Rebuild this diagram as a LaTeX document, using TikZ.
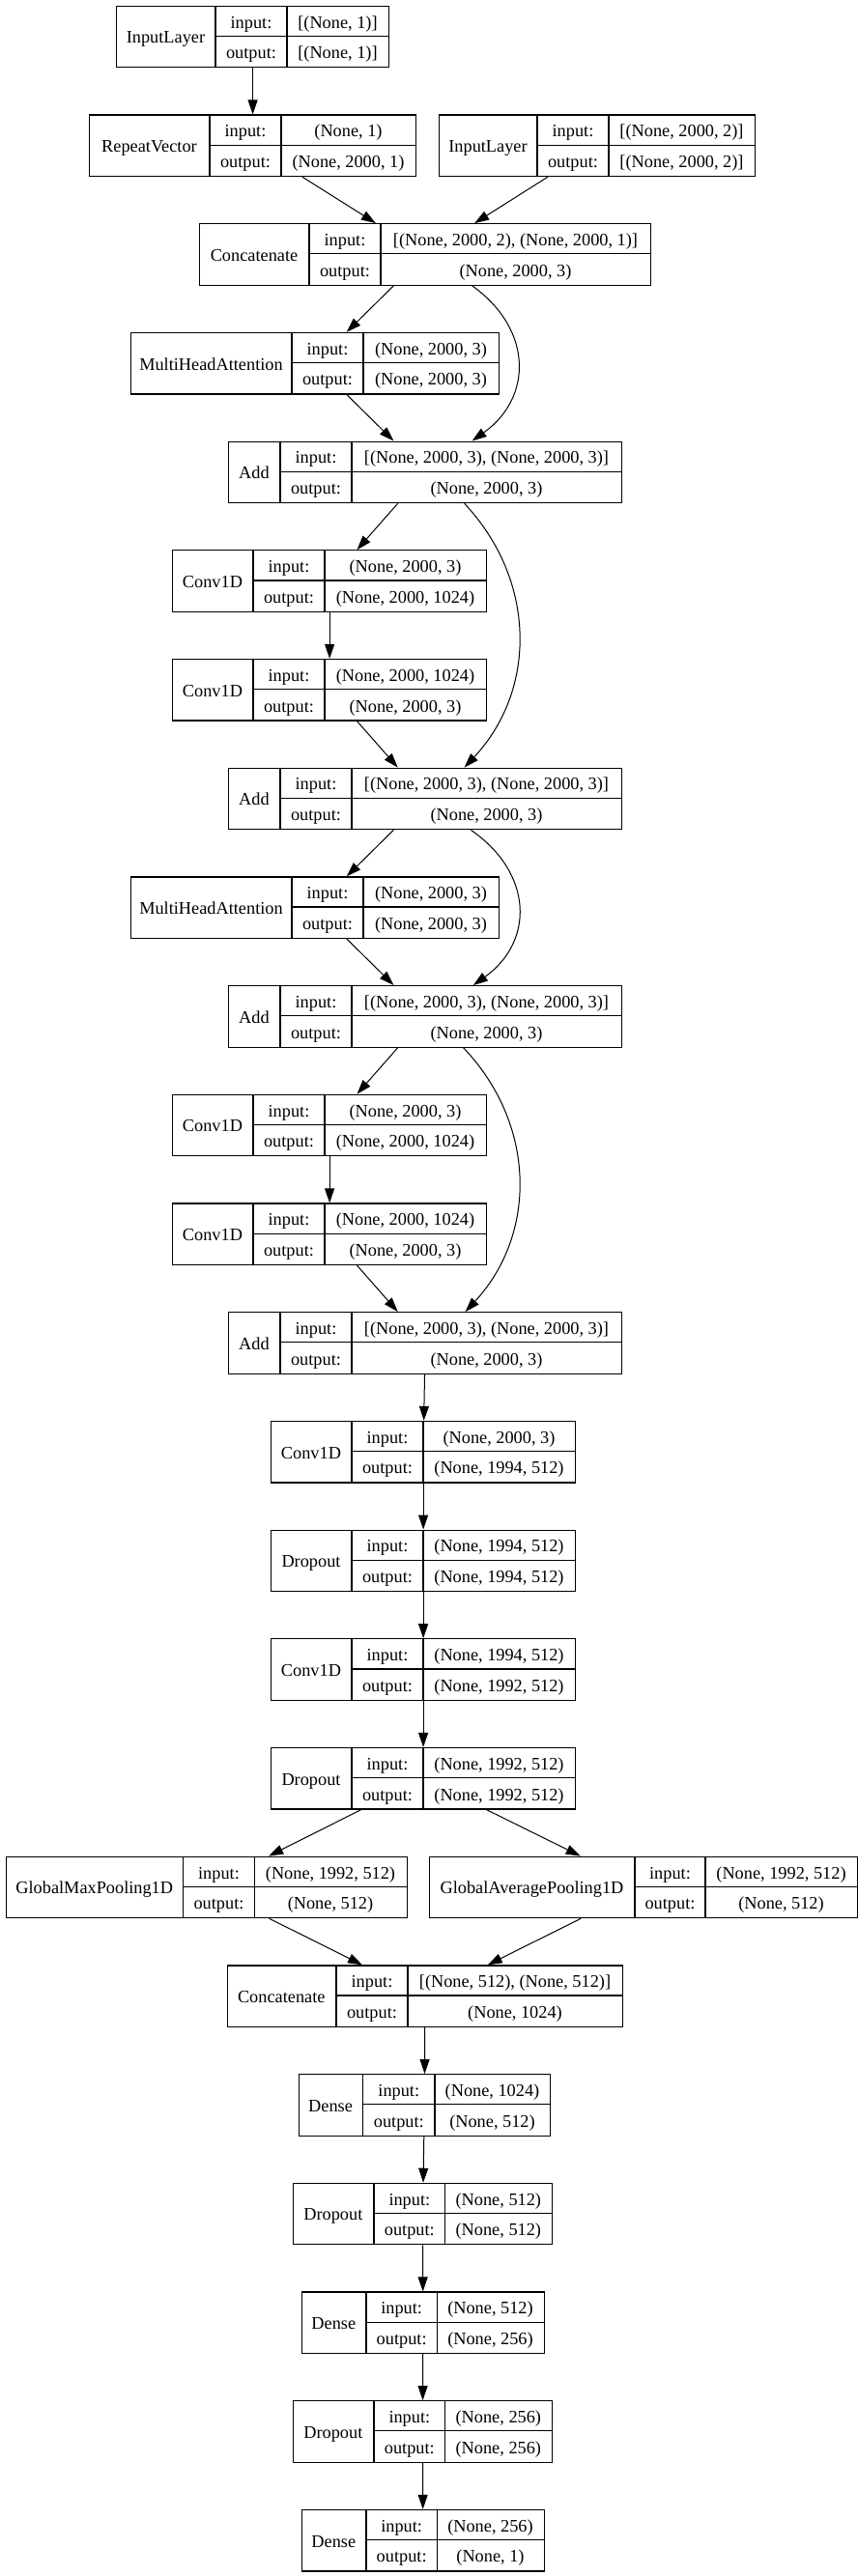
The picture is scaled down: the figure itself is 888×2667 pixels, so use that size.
\documentclass[tikz,border=0pt]{standalone}
\usepackage{fontspec}
\setmainfont{Liberation Serif}
\usepackage{tikz}
\usetikzlibrary{arrows.meta}

\tikzset{
  layerbox/.style={draw, line width=1.2pt, rectangle, inner sep=0pt, minimum height=63.5pt},
  cell/.style={line width=1.2pt},
  txt/.style={inner sep=0pt, text height=15pt, text depth=0pt, font=\fontsize{18.3}{22}\selectfont},
  arr/.style={line width=1pt, -{Triangle[length=15pt,width=10pt]}}
}

% name, left, row, divider 1, divider 2, right, label, input, output
\newcommand{\kbox}[9]{%
  \pgfmathsetmacro{\ltop}{-5.7-(#3-1)*112.7}%
  \pgfmathsetmacro{\lbot}{\ltop-63.5}%
  \pgfmathsetmacro{\lmid}{\ltop-31.75}%
  \node[layerbox, minimum width={#6-#2}, anchor=north west] (#1) at (#2,\ltop) {};
  \draw[cell] (#4,\ltop) -- (#4,\lbot) (#5,\ltop) -- (#5,\lbot) (#4,\lmid) -- (#6,\lmid);
  \node[txt] (#1-lbl) at ({(#2+#4)/2},\lmid) {#7};
  \node[txt] (#1-ik) at ({(#4+#5)/2},{\lmid+15.875}) {input:};
  \node[txt] (#1-iv) at ({(#5+#6)/2},{\lmid+15.875}) {#8};
  \node[txt] (#1-ok) at ({(#4+#5)/2},{\lmid-15.875}) {output:};
  \node[txt] (#1-ov) at ({(#5+#6)/2},{\lmid-15.875}) {#9};
}

\begin{document}
\begin{tikzpicture}[x=1pt, y=1pt]
    \useasboundingbox (0,0) rectangle (888,-2667);
    \kbox{in1}{120}{1}{223}{297}{402}{InputLayer}{[(None, 1)]}{[(None, 1)]}
    \kbox{rep}{92}{2}{217}{291}{430}{RepeatVector}{(None, 1)}{(None, 2000, 1)}
    \kbox{in2}{454}{2}{556}{630}{781}{InputLayer}{[(None, 2000, 2)]}{[(None, 2000, 2)]}
    \kbox{cat1}{206}{3}{320}{394}{673}{Concatenate}{[(None, 2000, 2), (None, 2000, 1)]}{(None, 2000, 3)}
    \kbox{mha1}{135}{4}{302}{376}{516}{MultiHeadAttention}{(None, 2000, 3)}{(None, 2000, 3)}
    \kbox{add1}{236}{5}{290}{364}{643}{Add}{[(None, 2000, 3), (None, 2000, 3)]}{(None, 2000, 3)}
    \kbox{conv1}{178}{6}{262}{336}{503}{Conv1D}{(None, 2000, 3)}{(None, 2000, 1024)}
    \kbox{conv2}{178}{7}{262}{336}{503}{Conv1D}{(None, 2000, 1024)}{(None, 2000, 3)}
    \kbox{add2}{236}{8}{290}{364}{643}{Add}{[(None, 2000, 3), (None, 2000, 3)]}{(None, 2000, 3)}
    \kbox{mha2}{135}{9}{302}{376}{516}{MultiHeadAttention}{(None, 2000, 3)}{(None, 2000, 3)}
    \kbox{add3}{236}{10}{290}{364}{643}{Add}{[(None, 2000, 3), (None, 2000, 3)]}{(None, 2000, 3)}
    \kbox{conv3}{178}{11}{262}{336}{503}{Conv1D}{(None, 2000, 3)}{(None, 2000, 1024)}
    \kbox{conv4}{178}{12}{262}{336}{503}{Conv1D}{(None, 2000, 1024)}{(None, 2000, 3)}
    \kbox{add4}{236}{13}{290}{364}{643}{Add}{[(None, 2000, 3), (None, 2000, 3)]}{(None, 2000, 3)}
    \kbox{conv5}{280}{14}{364}{438}{595}{Conv1D}{(None, 2000, 3)}{(None, 1994, 512)}
    \kbox{drop1}{280}{15}{364}{438}{595}{Dropout}{(None, 1994, 512)}{(None, 1994, 512)}
    \kbox{conv6}{280}{16}{364}{438}{595}{Conv1D}{(None, 1994, 512)}{(None, 1992, 512)}
    \kbox{drop2}{280}{17}{364}{438}{595}{Dropout}{(None, 1992, 512)}{(None, 1992, 512)}
    \kbox{gmp}{6}{18}{189.5}{263.5}{420.5}{GlobalMaxPooling1D}{(None, 1992, 512)}{(None, 512)}
    \kbox{gap}{444}{18}{657}{730}{887}{GlobalAveragePooling1D}{(None, 1992, 512)}{(None, 512)}
    \kbox{cat2}{234.5}{19}{348}{422}{644}{Concatenate}{[(None, 512), (None, 512)]}{(None, 1024)}
    \kbox{dense1}{308.5}{20}{375.6}{450}{569}{Dense}{(None, 1024)}{(None, 512)}
    \kbox{drop3}{302.7}{21}{387}{460.7}{571}{Dropout}{(None, 512)}{(None, 512)}
    \kbox{dense2}{311.7}{22}{379}{452.3}{562.7}{Dense}{(None, 512)}{(None, 256)}
    \kbox{drop4}{302.7}{23}{387}{460.7}{571}{Dropout}{(None, 256)}{(None, 256)}
    \kbox{dense3}{311.7}{24}{379}{452.3}{562.7}{Dense}{(None, 256)}{(None, 1)}
    \draw[arr] (in1) -- (rep);
    \draw[arr] (rep) -- (cat1);
    \draw[arr] (in2) -- (cat1);
    \draw[arr] (cat1) -- (mha1);
    \draw[arr] (mha1) -- (add1);
    \draw[arr] ([xshift=48.5pt]cat1.south) .. controls +(63,-45) and +(63,45) .. ([xshift=48.5pt]add1.north);
    \draw[arr] (add1) -- (conv1);
    \draw[arr] (conv1) -- (conv2);
    \draw[arr] (conv2) -- (add2);
    \draw[arr] ([xshift=40.5pt]add1.south) .. controls +(75,-80) and +(75,80) .. ([xshift=40.5pt]add2.north);
    \draw[arr] (add2) -- (mha2);
    \draw[arr] (mha2) -- (add3);
    \draw[arr] ([xshift=47.25pt]add2.south) .. controls +(65,-45) and +(63,45) .. ([xshift=49.75pt]add3.north);
    \draw[arr] (add3) -- (conv3);
    \draw[arr] (conv3) -- (conv4);
    \draw[arr] (conv4) -- (add4);
    \draw[arr] ([xshift=39.5pt]add3.south) .. controls +(76,-80) and +(74,80) .. ([xshift=41.5pt]add4.north);
    \draw[arr] (add4) -- (conv5);
    \draw[arr] (conv5) -- (drop1);
    \draw[arr] (drop1) -- (conv6);
    \draw[arr] (conv6) -- (drop2);
    \draw[arr] (drop2) -- (gmp);
    \draw[arr] (drop2) -- (gap);
    \draw[arr] (gmp) -- (cat2);
    \draw[arr] (gap) -- (cat2);
    \draw[arr] (cat2) -- (dense1);
    \draw[arr] (dense1) -- (drop3);
    \draw[arr] (drop3) -- (dense2);
    \draw[arr] (dense2) -- (drop4);
    \draw[arr] (drop4) -- (dense3);
\end{tikzpicture}
\end{document}
